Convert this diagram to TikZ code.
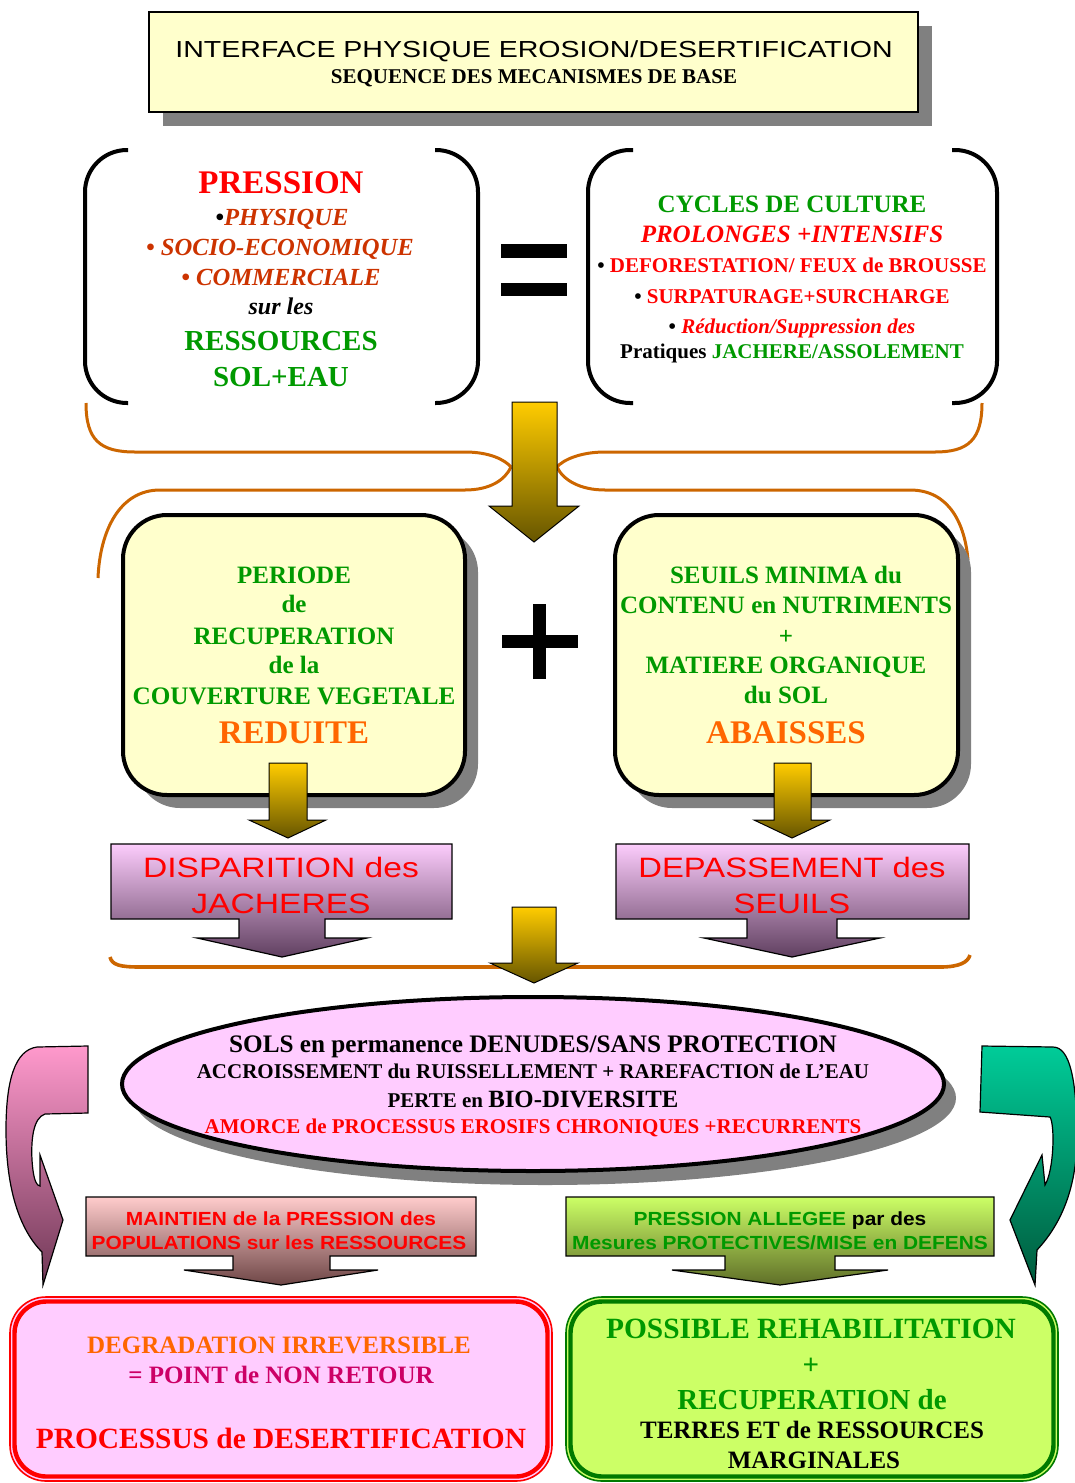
\documentclass[tikz,border=0pt]{standalone}
\usepackage{graphicx}
\usepackage{fontspec}
\setmainfont{Liberation Serif}
\newfontfamily\arial{Liberation Sans}
\usetikzlibrary{positioning}
\definecolor{vert}{HTML}{009900}
\definecolor{rouge}{HTML}{FF0000}
\definecolor{brique}{HTML}{CC3300}
\definecolor{orangevif}{HTML}{FF6600}
\definecolor{framboise}{HTML}{CC0066}
\definecolor{jaunepale}{HTML}{FFFFCC}
\definecolor{rosepale}{HTML}{FFCCFF}
\definecolor{citron}{HTML}{CCFF66}
\definecolor{accol}{HTML}{CC6600}
\definecolor{vertfonce}{HTML}{007A00}
\newcommand{\tsz}[1]{\fontsize{#1}{#1}\selectfont}
\tikzset{
  lbl/.style={anchor=base, inner sep=0pt},
  ombre/.style={fill=black!50, draw=none},
  crochet/.style={line width=2pt, rounded corners=21pt},
  accolade/.style={draw=accol, line width=1.5pt},
  boite/.style={draw=black, line width=2pt, fill=jaunepale, rounded corners=22pt},
  flecheor/.style={draw=black, line width=0.5pt, top color={rgb,255:red,255;green,204;blue,0}, bottom color={rgb,255:red,102;green,85;blue,0}},
  flechemauve/.style={draw=black, line width=0.6pt, top color={rgb,255:red,252;green,204;blue,252}, bottom color={rgb,255:red,96;green,64;blue,96}},
  flecherouge/.style={draw=black, line width=0.6pt, top color={rgb,255:red,255;green,204;blue,204}, bottom color={rgb,255:red,110;green,70;blue,70}},
  flechelime/.style={draw=black, line width=0.6pt, top color={rgb,255:red,204;green,255;blue,102}, bottom color={rgb,255:red,95;green,110;blue,40}},
  retourrose/.style={draw=black, line width=0.6pt, top color={rgb,255:red,255;green,153;blue,204}, bottom color={rgb,255:red,110;green,55;blue,85}},
  retourvert/.style={draw=black, line width=0.6pt, top color={rgb,255:red,0;green,204;blue,153}, bottom color={rgb,255:red,0;green,90;blue,60}},
}
\begin{document}
\begin{tikzpicture}[x=0.5pt,y=-0.5pt]
\useasboundingbox (0,0) rectangle (1075,1483);

% titre
\fill[ombre] (163,26) rectangle (932,126);
\draw[fill=jaunepale, line width=0.6pt] (149,12) rectangle (918,112);
\node[lbl, font=\arial\tsz{11.6}] (titre) at (534,57) {\scalebox{1.23}[1]{INTERFACE PHYSIQUE EROSION/DESERTIFICATION}};
\node[lbl, font=\bfseries\tsz{10.5}] (soustitre) at (534,83) {SEQUENCE DES MECANISMES DE BASE};

% crochets du haut
\draw[crochet] (128,150) -| (85,403) -- (128,403);
\draw[crochet] (435,150) -| (478,403) -- (435,403);
\draw[crochet] (633,150) -| (588,403) -- (633,403);
\draw[crochet] (952,150) -| (997,403) -- (952,403);

\node[lbl, font=\bfseries\tsz{16.5}, text=rouge] (pression) at (281,193) {PRESSION};
\node[lbl, font=\bfseries\itshape\tsz{12.3}, text=brique] (physique) at (282,225) {{\upshape\color{black}•}PHYSIQUE};
\node[lbl, font=\bfseries\itshape\tsz{12.3}, text=brique] (socio) at (280,255) {• SOCIO-ECONOMIQUE};
\node[lbl, font=\bfseries\itshape\tsz{12.3}, text=brique] (commerce) at (281,285) {• COMMERCIALE};
\node[lbl, font=\bfseries\itshape\tsz{12}] (surles) at (281,314) {sur les};
\node[lbl, font=\bfseries\tsz{14.5}, text=vert] (ressources) at (281,350) {RESSOURCES};
\node[lbl, font=\bfseries\tsz{14.5}, text=vert] (soleau) at (281,386) {SOL+EAU};

% signe egal
\fill (501,244) rectangle (567,258);
\fill (501,283) rectangle (567,296);

\node[lbl, font=\bfseries\tsz{12.5}, text=vert] (cycles) at (792,212) {CYCLES DE CULTURE};
\node[lbl, font=\bfseries\itshape\tsz{12.5}, text=rouge] (prolonges) at (792,242) {PROLONGES +INTENSIFS};
\node[lbl, font=\bfseries\tsz{10.5}, text=rouge] (deforest) at (792,272) {{\color{black}•} DEFORESTATION/ FEUX de BROUSSE};
\node[lbl, font=\bfseries\tsz{10.5}, text=rouge] (surpat) at (792,303) {{\color{black}•} SURPATURAGE+SURCHARGE};
\node[lbl, font=\bfseries\tsz{10.5}, text=rouge] (reduction) at (792,333) {{\color{black}•} \textit{Réduction/Suppression des}};
\node[lbl, font=\bfseries\tsz{10.5}] (pratiques) at (792,358) {Pratiques {\color{vert}JACHERE/ASSOLEMENT}};

% accolades
\draw[accolade] (86,403) .. controls (86,440) and (100,452) .. (135,452) -- (465,452) .. controls (490,452) and (505,460) .. (511,467);
\draw[accolade] (511,467) .. controls (505,480) and (490,490) .. (465,490) -- (160,490) .. controls (120,490) and (100,530) .. (98,578);
\draw[accolade] (982,403) .. controls (982,440) and (968,452) .. (935,452) -- (605,452) .. controls (580,452) and (563,460) .. (557,467);
\draw[accolade] (557,467) .. controls (563,480) and (580,490) .. (605,490) -- (910,490) .. controls (950,490) and (965,525) .. (968,560);
\draw[flecheor] (512,402) -- (557,402) -- (557,506) -- (579,506) -- (534,542) -- (489,506) -- (512,506) -- cycle;

% boites du milieu
\fill[ombre, rounded corners=22pt] (136,528) rectangle (478,808);
\draw[boite] (123,515) rectangle (465,795);
\fill[ombre, rounded corners=22pt] (628,528) rectangle (971,808);
\draw[boite] (615,515) rectangle (958,795);

\node[lbl, font=\bfseries\tsz{12.5}, text=vert] (periode) at (294,583) {PERIODE};
\node[lbl, font=\bfseries\tsz{12.5}, text=vert] (de) at (294,612) {de};
\node[lbl, font=\bfseries\tsz{12.5}, text=vert] (recup) at (294,644) {RECUPERATION};
\node[lbl, font=\bfseries\tsz{12.5}, text=vert] (dela) at (294,673) {de la};
\node[lbl, font=\bfseries\tsz{12.6}, text=vert] (couverture) at (294,704) {COUVERTURE VEGETALE};
\node[lbl, font=\bfseries\tsz{16.5}, text=orangevif] (reduite) at (294,743) {REDUITE};

\node[lbl, font=\bfseries\tsz{12.5}, text=vert] (seuils) at (786,583) {SEUILS MINIMA du};
\node[lbl, font=\bfseries\tsz{12.5}, text=vert] (contenu) at (786,613) {CONTENU en NUTRIMENTS};
\node[lbl, font=\bfseries\tsz{12.5}, text=vert] (plus) at (786,644) {+};
\node[lbl, font=\bfseries\tsz{12.5}, text=vert] (matiere) at (786,673) {MATIERE ORGANIQUE};
\node[lbl, font=\bfseries\tsz{12.5}, text=vert] (dusol) at (786,703) {du SOL};
\node[lbl, font=\bfseries\tsz{16.5}, text=orangevif] (abaisses) at (786,743) {ABAISSES};

% signe plus
\fill (533,604) rectangle (546,679);
\fill (502,635) rectangle (578,648);

\draw[flecheor] (269,763) -- (307,763) -- (307,820) -- (326,820) -- (288,838) -- (249,820) -- (269,820) -- cycle;
\draw[flecheor] (774,763) -- (811,763) -- (811,820) -- (830,820) -- (792,838) -- (754,820) -- (774,820) -- cycle;

% disparition / depassement
\draw[flechemauve] (111,844) -- (452,844) -- (452,919) -- (325,919) -- (325,938) -- (367,938) -- (282,957) -- (197,938) -- (239,938) -- (239,919) -- (111,919) -- cycle;
\draw[flechemauve] (616,844) -- (969,844) -- (969,919) -- (837,919) -- (837,938) -- (880,938) -- (792,957) -- (704,938) -- (747,938) -- (747,919) -- (616,919) -- cycle;
\node[lbl, font=\arial\tsz{14}, text=rouge] (dispar) at (281,877) {\scalebox{1.2}[1]{DISPARITION des}};
\node[lbl, font=\arial\tsz{14}, text=rouge] (jacheres) at (281,913) {\scalebox{1.2}[1]{JACHERES}};
\node[lbl, font=\arial\tsz{14}, text=rouge] (depass) at (792,877) {\scalebox{1.17}[1]{DEPASSEMENT des}};
\node[lbl, font=\arial\tsz{14}, text=rouge] (seuils2) at (792,913) {\scalebox{1.17}[1]{SEUILS}};

\draw[accol, line width=1.8pt] (110,957) .. controls (112,965) and (120,967) .. (140,967) -- (940,967) .. controls (960,967) and (968,962) .. (970,955);
\draw[flecheor] (512,907) -- (556,907) -- (556,963) -- (578,963) -- (534,983) -- (490,963) -- (512,963) -- cycle;

% ellipse
\fill[ombre] (545,1098) ellipse [x radius=411, y radius=87];
\draw[line width=2pt, fill=rosepale] (533,1084) ellipse [x radius=411, y radius=87];
\node[lbl, font=\bfseries\tsz{12.6}] (sols) at (533,1052) {SOLS en permanence DENUDES/SANS PROTECTION};
\node[lbl, font=\bfseries\tsz{10.5}] (accroiss) at (533,1078) {ACCROISSEMENT du RUISSELLEMENT + RAREFACTION de L’EAU};
\node[lbl, font=\bfseries\tsz{10.5}] (perte) at (533,1107) {PERTE en {\tsz{12.4}BIO-DIVERSITE}};
\node[lbl, font=\bfseries\tsz{10.5}, text=rouge] (amorce) at (533,1133) {AMORCE de PROCESSUS EROSIFS CHRONIQUES +RECURRENTS};

% fleches de retour
\draw[retourrose] (88,1046) -- (88,1113) -- (45,1114) .. controls (33,1118) and (31,1140) .. (32,1160) .. controls (33,1175) and (35,1185) .. (40,1186) -- (40,1155) -- (63,1220) -- (43,1285) -- (42,1252) .. controls (20,1230) and (6,1190) .. (6,1130) .. controls (6,1080) and (15,1050) .. (37,1047) -- cycle;
\draw[retourvert] (982,1046) -- (980,1112) -- (1050,1117) .. controls (1055,1125) and (1054,1170) .. (1045,1185) -- (1042,1155) -- (1010,1220) -- (1035,1285) -- (1037,1250) .. controls (1065,1220) and (1078,1180) .. (1077,1130) .. controls (1076,1080) and (1070,1047) .. (1053,1047) -- cycle;

% maintien / allegee
\draw[flecherouge] (86,1197) -- (476,1197) -- (476,1256) -- (330,1256) -- (330,1270) -- (378,1270) -- (281,1285) -- (184,1270) -- (233,1270) -- (233,1256) -- (86,1256) -- cycle;
\draw[flechelime] (566,1197) -- (994,1197) -- (994,1256) -- (835,1256) -- (835,1270) -- (888,1270) -- (780,1285) -- (672,1270) -- (725,1270) -- (725,1256) -- (566,1256) -- cycle;
\node[lbl, font=\arial\bfseries\tsz{9.5}, text=rouge] (maintien) at (281,1225) {\scalebox{1.1}[1]{MAINTIEN de la PRESSION des}};
\node[lbl, font=\arial\bfseries\tsz{9.5}, text=rouge] (populations) at (279,1249) {\scalebox{1.1}[1]{POPULATIONS sur les RESSOURCES}};
\node[lbl, font=\arial\bfseries\tsz{9.5}, text=vert] (allegee) at (780,1225) {\scalebox{1.1}[1]{PRESSION ALLEGEE {\color{black}par des}}};
\node[lbl, font=\arial\bfseries\tsz{9.5}, text=vert] (mesures) at (780,1249) {\scalebox{1.1}[1]{Mesures PROTECTIVES/MISE en DEFENS}};

% boites du bas
\draw[draw=rouge, line width=0.8pt, fill=rosepale, rounded corners=18pt] (10,1297) rectangle (552,1481);
\draw[draw=rouge, line width=2.2pt, rounded corners=16pt] (14.5,1301.5) rectangle (547.5,1476.5);
\draw[draw=vertfonce, line width=0.8pt, fill=citron, rounded corners=18pt] (566,1297) rectangle (1058,1481);
\draw[draw=vertfonce, line width=2.2pt, rounded corners=16pt] (570.5,1301.5) rectangle (1053.5,1476.5);

\node[lbl, font=\bfseries\tsz{12.5}, text=orangevif] (degrad) at (279,1353) {DEGRADATION IRREVERSIBLE};
\node[lbl, font=\bfseries\tsz{12.5}, text=framboise] (nonretour) at (281,1383) {= POINT de NON RETOUR};
\node[lbl, font=\bfseries\tsz{14.7}, text=rouge] (processus) at (281,1448) {PROCESSUS de DESERTIFICATION};

\node[lbl, font=\bfseries\tsz{14.7}, text=vert] (possible) at (811,1338) {POSSIBLE REHABILITATION};
\node[lbl, font=\bfseries\tsz{14.5}, text=vert] (plusbas) at (811,1374) {+};
\node[lbl, font=\bfseries\tsz{14.5}, text=vert] (recupbas) at (812,1409) {RECUPERATION de};
\node[lbl, font=\bfseries\tsz{12.5}] (terres) at (812,1438) {TERRES ET de RESSOURCES};
\node[lbl, font=\bfseries\tsz{12.5}] (marginales) at (814,1468) {MARGINALES};
\end{tikzpicture}
\end{document}
